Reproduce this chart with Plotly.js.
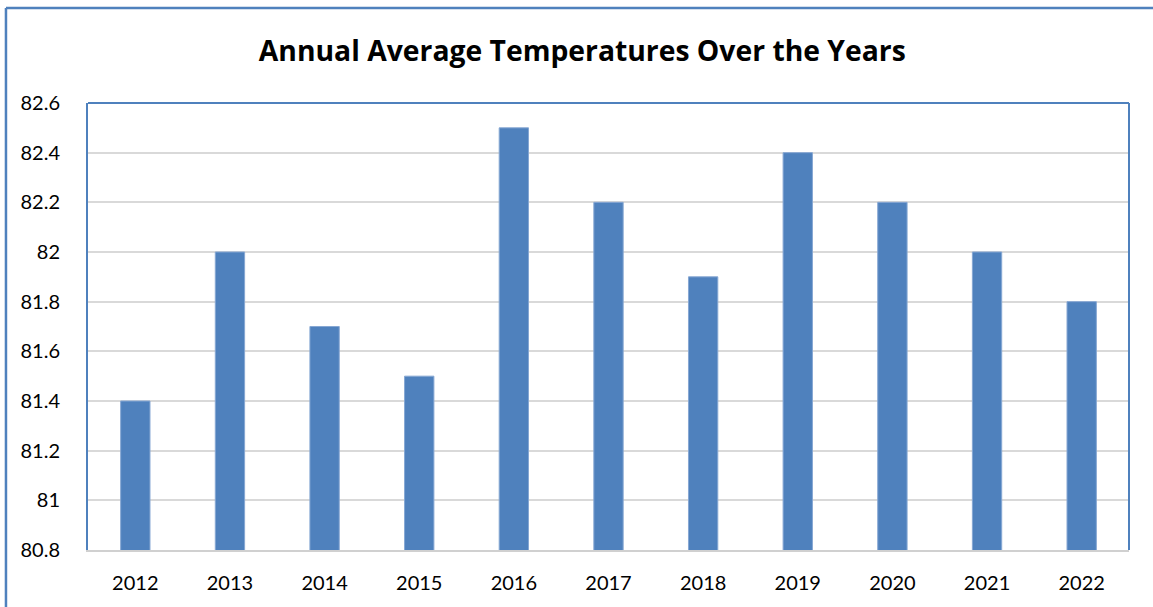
<!DOCTYPE html>
<html>
<head>
<meta charset="utf-8">
<script src="https://cdn.plot.ly/plotly-3.0.1.min.js"></script>
<style>
  html, body { margin: 0; padding: 0; background: #ffffff; }
  #chart { width: 1153px; height: 607px; }
</style>
</head>
<body>
<div id="chart"></div>
<script>
const years = ['2012','2013','2014','2015','2016','2017','2018','2019','2020','2021','2022'];
const temperatures = [81.4, 82.0, 81.7, 81.5, 82.5, 82.2, 81.9, 82.4, 82.2, 82.0, 81.8];
const chartTitle = 'Annual Average Temperatures Over the Years';

const blue = '#4F81BD';
const trace = {
  type: 'bar',
  x: years,
  y: temperatures,
  marker: { color: blue, line: { color: '#86A7D3', width: 1 } },
  hoverinfo: 'x+y'
};

const layout = {
  width: 1153,
  height: 607,
  margin: { l: 88, r: 24, t: 103, b: 57 },
  paper_bgcolor: '#ffffff',
  plot_bgcolor: '#ffffff',
  font: { family: 'Lato, "Noto Sans", sans-serif', color: '#000000', size: 20 },
  title: {
    text: '<b>' + chartTitle + '</b>',
    font: { family: '"Open Sans", "Noto Sans", sans-serif', size: 28.3, color: '#000000' },
    x: 0.505, xanchor: 'center',
    y: 1 - 51 / 607, yanchor: 'middle'
  },
  bargap: 0.69,
  showlegend: false,
  xaxis: {
    type: 'category',
    showgrid: false,
    showline: true,
    linecolor: '#D0D0D0',
    linewidth: 2,
    ticks: '',
    ticklabelstandoff: 14,
    tickfont: { size: 20 }
  },
  yaxis: {
    range: [80.8, 82.6],
    dtick: 0.2,
    tick0: 80.8,
    showgrid: true,
    gridcolor: '#D9D9D9',
    gridwidth: 2,
    zeroline: false,
    showline: true,
    linecolor: blue,
    linewidth: 2,
    ticks: '',
    ticklabelstandoff: 22,
    tickfont: { size: 20 }
  },
  shapes: [
    { type: 'line', xref: 'paper', yref: 'paper', x0: 0, x1: 1, y0: 1, y1: 1,
      line: { color: blue, width: 2 } },
    { type: 'line', xref: 'paper', yref: 'paper', x0: 1, x1: 1, y0: 0, y1: 1,
      line: { color: blue, width: 2 } },
    { type: 'line', xref: 'paper', yref: 'paper', x0: -0.0788, x1: 1.05, y0: 1.2125, y1: 1.2125,
      line: { color: blue, width: 2.5 } },
    { type: 'line', xref: 'paper', yref: 'paper', x0: -0.0788, x1: -0.0788, y0: -0.2, y1: 1.2125,
      line: { color: blue, width: 2.5 } }
  ]
};

Plotly.newPlot('chart', [trace], layout, { displayModeBar: false, responsive: false });
</script>
</body>
</html>
